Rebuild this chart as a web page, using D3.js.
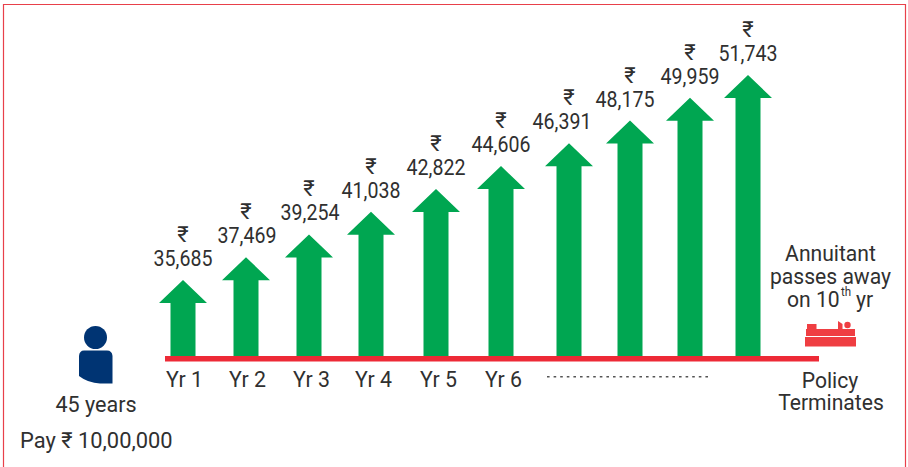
<!DOCTYPE html>
<html>
<head>
<meta charset="utf-8">
<script src="https://cdn.jsdelivr.net/npm/d3@7"></script>
<style>
  html, body { margin: 0; padding: 0; background: #fff; }
  svg { display: block; }
  text { font-family: Roboto, sans-serif; font-size: 22px; fill: #303030; }
</style>
</head>
<body>
<div id="chart"></div>
<script>
const years = [1, 2, 3, 4, 5, 6, 7, 8, 9, 10];
const payouts = [35685, 37469, 39254, 41038, 42822, 44606, 46391, 48175, 49959, 51743];
const yearLabels = ["Yr 1", "Yr 2", "Yr 3", "Yr 4", "Yr 5", "Yr 6"];
const rupee = "\u20B9";

const width = 908;
const height = 467;
const green = "#00a651";
const red = "#ed2a36";
const bedRed = "#ef3e42";
const navy = "#003473";

const svg = d3.select("#chart").append("svg")
  .attr("width", width)
  .attr("height", height);

// the arrows are not evenly spaced in the picture
const xScale = d3.scaleOrdinal()
  .domain(years)
  .range([183, 246, 309, 371, 436, 501, 569, 630, 690, 748]);

// tips of first and last arrow, the scale extends below to the baseline
const yScale = d3.scaleLinear()
  .domain([35685, 51743])
  .range([280, 75]);

const baseY = 357;

// the original face is narrower than Roboto, so each text gets a squeeze
function label(str, x, y, squeeze = 0.96, anchor = "middle") {
  return svg.append("text")
    .attr("transform", `translate(${x},${y}) scale(${squeeze},1)`)
    .attr("text-anchor", anchor)
    .text(str);
}

// frame, open at the bottom
svg.append("path")
  .attr("d", `M3.5,${height} V4.5 H905.5 V${height}`)
  .attr("fill", "none")
  .attr("stroke", "#e8404a")
  .attr("stroke-width", 1.2);

// arrows
const arrow = d3.line();
svg.selectAll(".arrow")
  .data(payouts)
  .enter()
  .append("path")
  .attr("class", "arrow")
  .attr("fill", green)
  .attr("d", (d, i) => {
    const x = xScale(years[i]);
    const y = yScale(d);
    return arrow([
      [x, y], [x + 24, y + 23], [x + 12.5, y + 23], [x + 12.5, baseY],
      [x - 12.5, baseY], [x - 12.5, y + 23], [x - 24, y + 23]
    ]) + "Z";
  });

// baseline
svg.append("rect")
  .attr("x", 165)
  .attr("y", 356)
  .attr("width", 654)
  .attr("height", 5.5)
  .attr("fill", red);

// value labels, Yr 7 and Yr 8 numbers sit a bit left of their arrows
const numberShift = { 7: -7, 8: -5, 2: 1, 3: 1 };
payouts.forEach((d, i) => {
  const x = xScale(years[i]);
  const y = yScale(d);
  label(rupee, x, y - 38, 1);
  label(d3.format(",")(d), x + (numberShift[years[i]] || 0), y - 14, 0.89);
});

// year labels
yearLabels.forEach((d, i) => {
  label(d, xScale(years[i]) + 1.5 + (i > 1 ? 1 : 0), 387, 0.97);
});

// dotted run for the unlabelled years
svg.append("line")
  .attr("x1", 547)
  .attr("x2", 711)
  .attr("y1", 376.7)
  .attr("y2", 376.7)
  .attr("stroke", "#555")
  .attr("stroke-width", 1.5)
  .attr("stroke-dasharray", "2.6,4");

// person
svg.append("circle")
  .attr("cx", 95.5)
  .attr("cy", 337.5)
  .attr("r", 11.5)
  .attr("fill", navy);
svg.append("path")
  .attr("fill", navy)
  .attr("d", "M84,350.5 H107 Q112,350.5 112.5,356 V383.5 H100 Q88,383 79,376 V356 Q79.5,350.5 84,350.5 Z");

label("45 years", 96, 412, 0.98);
label(`Pay ${rupee} 10,00,000`, 20, 448, 0.995, "start");

// right hand side
label("Annuitant", 830.5, 261);
label("passes away", 830.5, 284);
label("on 10", 787, 307, 0.96, "start");
label("th", 841, 296, 0.96, "start").style("font-size", "12px");
label("yr", 856, 307, 0.96, "start");

// bed
svg.append("rect").attr("x", 806).attr("y", 329).attr("width", 49).attr("height", 7).attr("fill", bedRed);
svg.append("rect").attr("x", 805).attr("y", 337).attr("width", 51).attr("height", 9.5).attr("fill", bedRed);
svg.append("rect").attr("x", 807).attr("y", 324).attr("width", 9.5).attr("height", 5).attr("fill", bedRed);
svg.append("path").attr("fill", bedRed).attr("d", "M838,329 V321 L842.5,324 V329 Z");
svg.append("circle").attr("cx", 847.5).attr("cy", 325).attr("r", 3.2).attr("fill", bedRed);

label("Policy", 830, 388);
label("Terminates", 831, 410);
</script>
</body>
</html>
